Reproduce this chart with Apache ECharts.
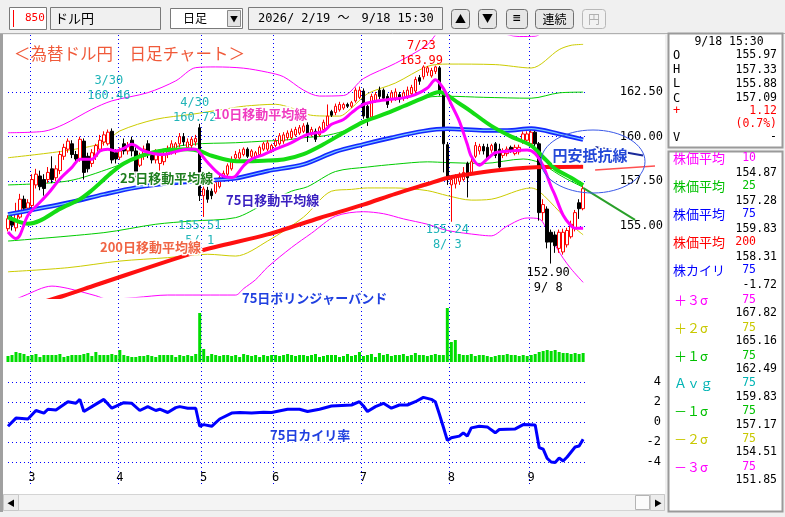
<!DOCTYPE html>
<html><head><meta charset="utf-8">
<script src="https://cdn.jsdelivr.net/npm/echarts@6.0.0/dist/echarts.min.js"></script>
<style>html,body{margin:0;padding:0;background:#f0f0f0;overflow:hidden}#c{width:785px;height:517px}</style>
</head><body><div id="c"></div>
<script>
// ---------------- data ----------------
const monthDays = [
  [2, [19,20,24,25,26,27]],
  [3, [2,3,4,5,6,9,10,11,12,13,16,17,18,19,20,23,24,25,26,27,30,31]],
  [4, [1,2,3,6,7,8,9,10,13,14,15,16,17,20,21,22,23,24,27,28,30]],
  [5, [1,7,8,11,12,13,14,15,18,19,20,21,22,25,26,27,28,29]],
  [6, [1,2,3,4,5,8,9,10,11,12,15,16,17,18,19,22,23,24,25,26,29,30]],
  [7, [1,2,3,6,7,8,9,10,13,14,15,16,17,21,22,23,24,27,28,29,30,31]],
  [8, [3,4,5,6,7,10,12,13,14,17,18,19,20,21,24,25,26,27,28,31]],
  [9, [1,2,3,4,7,8,9,10,11,14,15,16,17,18]]
];
// [open, close, low, high]
const ohlc = [
 [154.85,155.41,154.70,155.60],[155.30,155.05,154.75,155.60],[154.90,155.80,154.70,156.30],[155.50,156.50,155.40,156.80],[156.50,156.00,155.80,156.70],[156.00,156.30,155.90,156.50],
 [156.15,157.60,156.00,157.90],[157.30,157.90,157.10,158.20],[157.80,157.20,157.00,158.10],[157.60,157.10,156.70,157.90],[157.60,158.00,157.40,158.30],[158.20,157.60,157.40,158.90],
 [157.70,158.20,157.50,158.40],[158.10,159.00,157.90,159.20],[158.90,159.40,158.70,159.60],[159.30,159.75,159.10,159.90],[159.60,159.00,158.80,159.80],[159.00,158.75,158.50,159.20],
 [158.75,159.85,158.60,160.00],[159.75,158.00,157.60,159.90],[158.90,158.20,158.00,159.10],[158.50,159.10,158.30,159.30],[158.90,159.50,158.70,159.60],[159.30,159.80,159.10,160.10],
 [159.70,160.10,159.50,160.30],[159.60,160.25,159.50,160.40],[160.30,158.70,158.50,160.46],[159.10,158.75,158.50,159.30],
 [158.85,159.20,158.70,159.40],[159.60,159.20,159.00,159.90],[159.20,159.50,159.00,159.70],[159.80,159.20,158.90,160.00],[159.20,157.90,157.70,159.40],[158.40,158.95,158.30,159.10],
 [158.90,159.30,158.70,159.50],[159.60,159.20,158.80,159.80],[158.95,158.70,158.50,159.10],[158.70,159.10,158.50,159.30],[158.50,159.00,157.60,159.20],[158.60,159.00,158.40,159.20],
 [159.00,159.30,158.80,159.50],[159.20,159.60,159.00,159.80],[159.20,159.60,159.00,159.70],[159.60,160.00,159.40,160.20],[160.00,159.70,159.50,160.20],[159.40,159.70,159.20,159.90],
 [159.50,159.85,159.30,160.00],[159.70,159.90,159.50,160.10],[160.50,156.70,156.40,160.72],
 [156.70,157.07,155.51,157.30],[157.00,156.50,156.30,157.20],[156.95,156.70,156.50,157.10],[156.90,157.44,156.80,157.60],[157.20,157.70,157.10,157.90],[157.60,157.95,157.50,158.10],
 [157.90,158.37,157.80,158.50],[158.20,158.70,158.10,158.90],[158.80,159.00,158.60,159.20],[158.80,159.10,158.70,159.30],[159.00,159.30,158.90,159.40],[159.30,158.90,158.80,159.40],
 [158.90,159.20,158.80,159.30],[158.85,159.10,158.70,159.20],[159.00,159.40,158.90,159.50],[159.30,159.60,159.20,159.70],[159.30,159.65,159.20,159.80],[159.20,159.50,159.10,159.60],
 [159.50,159.75,159.40,159.90],[159.60,160.05,159.50,160.20],[159.75,160.10,159.60,160.25],[159.95,160.20,159.80,160.35],[159.95,160.30,159.85,160.45],[160.10,160.40,160.00,160.55],
 [160.20,160.50,160.10,160.65],[160.30,160.60,160.20,160.75],[160.65,160.10,159.70,160.80],[160.10,160.40,160.00,160.55],[160.30,159.85,159.70,160.45],[160.10,160.50,160.00,160.60],
 [160.40,160.80,160.30,160.95],[160.60,161.15,160.50,161.80],[161.40,161.20,161.10,161.50],[161.35,161.70,161.20,161.85],[161.50,161.80,161.40,161.95],[161.60,161.80,161.50,161.90],
 [161.80,161.70,161.60,161.90],[161.70,161.90,161.60,162.00],[162.00,162.60,161.90,162.75],[162.20,162.60,162.10,162.80],
 [162.55,161.15,161.00,162.70],[161.70,161.05,160.60,161.80],[161.10,162.25,161.00,162.40],[162.00,162.35,161.90,162.50],[162.60,162.25,162.10,162.80],[162.60,162.15,162.00,162.70],
 [162.25,161.80,161.60,162.40],[162.05,162.45,161.90,162.60],[162.15,162.50,162.00,162.70],[162.35,162.10,161.90,162.50],[162.15,162.45,162.00,162.60],[162.25,162.60,162.10,162.80],
 [162.40,162.75,162.30,162.90],[162.55,163.20,162.40,163.35],[163.30,163.10,162.90,163.45],[163.35,163.90,163.20,163.99],[163.60,163.85,163.40,163.95],[163.40,163.70,163.30,163.85],
 [163.65,163.90,163.50,163.97],[163.85,162.45,162.30,163.95],[162.40,159.60,158.00,162.50],[159.55,157.60,157.30,159.70],
 [157.30,157.60,155.24,157.80],[157.35,157.75,157.10,157.90],[157.50,157.90,157.30,158.00],[157.60,158.00,157.50,158.30],[158.50,157.70,156.60,158.60],[158.00,158.60,157.90,158.80],
 [158.90,159.50,158.80,159.70],[159.20,159.45,159.00,159.60],[159.45,159.20,159.00,159.60],[159.40,158.80,158.70,159.60],[159.24,159.50,159.10,159.60],[159.60,158.95,158.80,159.70],
 [159.30,158.30,158.05,159.60],[158.95,159.20,158.80,159.35],[159.05,159.30,158.90,159.45],[159.40,159.25,159.10,159.50],[159.05,159.40,158.95,159.55],[159.15,159.40,159.00,159.55],
 [159.70,160.15,159.60,160.30],[159.80,160.15,159.70,160.30],
 [159.60,160.25,159.50,160.40],[160.25,159.60,159.40,160.40],[159.60,155.75,155.30,159.70],[155.75,156.20,155.30,156.50],[155.95,154.10,153.75,156.10],[154.65,154.10,152.90,154.80],
 [154.50,153.90,153.50,154.70],[153.75,154.65,153.50,154.80],[153.55,154.65,153.40,154.85],[153.95,154.75,153.80,154.90],[154.40,155.10,154.30,155.30],[154.85,155.75,154.70,155.90],
 [156.30,155.97,155.40,156.50],[155.97,157.09,155.88,157.33]
];
const volume = [
 6,7,10,9,8,6,
 7,8,5,7,7,7,7,8,5,6,7,7,7,8,9,6,10,7,7,7,8,7,
 12,7,6,5,5,6,6,7,6,5,7,7,7,7,5,7,6,7,6,8,
 49,13,6,8,7,6,7,7,6,7,5,8,7,6,7,5,7,6,7,
 7,6,7,8,7,6,7,7,6,7,8,5,6,7,7,7,5,6,8,6,7,10,
 6,7,8,5,9,7,8,6,7,7,8,6,7,9,7,7,6,7,8,7,7,54,
 20,22,8,7,7,8,6,7,7,6,5,6,7,7,8,7,7,6,7,6,
 7,8,10,11,12,11,12,10,9,9,8,9,8,9
];
// line vertices: [bar index, value]
const ma10 = [[0,154.67],[2,154.3],[3,154.5],[5,155.6],[8,156.33],[10,156.8],[13,157.63],[16,158.28],[18,158.74],[21,158.74],[23,159.2],[25,159.3],[27,159.2],[29,159.35],[31,159.57],[34,159.2],[39,159.0],[41,159.1],[45,159.3],[47,159.3],[48,159.1],[50,158.55],[53,157.9],[56,157.72],[57,157.8],[59,158.37],[61,158.74],[64,159.0],[67,159.3],[71,159.67],[75,160.13],[79,160.3],[81,160.69],[84,160.96],[86,161.33],[89,161.8],[92,161.98],[95,162.07],[99,162.17],[102,162.35],[105,162.72],[107,163.18],[109,162.7],[111,161.8],[113,160.87],[115,159.57],[116,158.9],[118,158.4],[120,158.75],[122,159.1],[126,159.2],[130,159.25],[132,159.05],[134,158.35],[136,157.2],[137,156.7],[139,155.6],[141,155.0],[142,154.88],[144,154.87]];
const ma25 = [[0,155.5],[3,155.22],[5,155.13],[8,155.3],[13,155.96],[18,156.5],[21,157.0],[23,157.4],[26,158.0],[29,158.5],[33,158.9],[38,159.2],[45,159.3],[48,159.2],[51,158.93],[56,158.65],[59,158.62],[64,158.65],[69,158.72],[74,159.02],[79,159.57],[84,160.22],[89,160.83],[94,161.24],[99,161.7],[104,162.17],[108,162.5],[113,161.85],[116,161.4],[121,160.6],[126,160.0],[131,159.5],[134,158.85],[137,158.2],[141,157.7],[144,157.28]];
const ma75 = [[0,155.65],[15,156.3],[24,156.77],[32,157.15],[40,157.39],[48,157.52],[57,157.67],[65,158.08],[74,158.45],[82,159.16],[89,159.57],[96,159.94],[104,160.31],[110,160.44],[119,160.35],[125,160.35],[131,160.45],[138,160.15],[144,159.83]];
const ma200 = [[0,150.2],[14,151.1],[22,151.7],[48,153.6],[65,154.53],[78,155.45],[89,156.2],[97,156.8],[105,157.35],[110,157.69],[117,157.95],[124,158.15],[134,158.3],[144,158.31]];
const bandUp3 = [[0,160.22],[9,160.3],[14,160.69],[21,161.53],[26,162.0],[35,162.46],[42,163.12],[47,163.86],[52,163.9],[59,163.83],[65,163.6],[69,163.35],[74,162.6],[78,162.27],[84,162.3],[89,163.25],[97,164.1],[105,165.13],[108,165.9],[115,166.4],[122,165.9],[128,165.6],[132,165.62],[136,166.3],[144,167.82]];
const bandUp2 = [[0,158.82],[14,159.2],[24,159.66],[28,160.32],[37,160.97],[46,161.25],[54,161.53],[59,161.7],[67,161.81],[71,161.6],[75,161.24],[78,161.16],[83,161.15],[86,161.6],[90,162.4],[97,163.0],[105,163.93],[110,164.06],[122,164.03],[131,163.84],[138,164.87],[141,165.11],[144,165.16]];
const bandUp1 = [[0,157.3],[15,157.52],[26,158.26],[37,159.2],[46,159.57],[57,159.66],[65,159.76],[69,159.8],[74,159.94],[79,160.04],[84,160.31],[90,160.9],[97,161.52],[105,162.2],[110,162.26],[119,162.2],[131,162.15],[138,162.45],[144,162.49]];
const bandDn1 = [[0,154.16],[24,154.63],[37,155.1],[46,155.28],[57,155.47],[64,156.21],[71,156.95],[75,157.2],[82,158.05],[90,158.3],[97,158.46],[105,158.59],[110,158.55],[119,158.5],[129,158.75],[133,158.55],[138,157.87],[141,157.5],[144,157.17]];
const bandDn2 = [[0,152.44],[15,152.67],[28,153.04],[40,153.23],[50,153.42],[57,153.32],[65,154.16],[74,155.5],[81,156.95],[86,157.05],[90,157.13],[97,157.13],[105,156.98],[110,156.7],[116,156.45],[121,156.5],[131,157.13],[133,156.94],[138,155.82],[141,155.07],[144,154.51]];
const bandDn3 = [[0,150.7],[4,151.1],[11,151.64],[15,151.51],[22,151.1],[25,150.9],[32,151.0],[40,151.14],[57,151.14],[59,151.5],[62,152.0],[65,152.7],[71,153.8],[76,154.6],[82,155.55],[89,155.8],[94,155.69],[99,155.4],[105,155.1],[110,154.75],[118,154.5],[121,154.45],[125,155.0],[130,155.45],[133,155.4],[136,154.3],[139,153.2],[141,152.6],[144,151.85]];
const kairi = [[0,-0.43],[2,0.39],[5,0.3],[7,1.15],[9,0.89],[10,1.28],[12,1.21],[15,2.03],[17,1.87],[18,2.26],[19,1.05],[21,1.54],[24,2.26],[26,1.38],[29,1.93],[31,1.87],[33,1.15],[35,1.54],[37,1.15],[38,1.28],[40,0.95],[42,1.44],[43,1.54],[45,1.38],[47,1.38],[48,-0.43],[49,-0.26],[51,-0.43],[53,0.3],[56,0.89],[58,0.95],[61,0.89],[64,0.98],[66,0.95],[70,1.28],[73,1.28],[75,1.05],[78,1.28],[81,1.6],[86,1.7],[88,2.03],[89,1.6],[90,1.05],[92,1.54],[94,1.87],[96,1.38],[98,1.7],[100,1.7],[102,2.03],[104,2.46],[106,2.26],[107,2.03],[108,0.8],[109,-0.5],[110,-1.84],[111,-1.57],[113,-1.41],[114,-1.08],[115,-1.41],[116,-0.59],[118,-0.43],[120,-0.49],[122,-1.08],[123,-0.75],[127,-0.69],[129,-0.26],[132,-0.3],[133,-2.56],[134,-2.72],[135,-3.64],[136,-4.0],[137,-4.05],[138,-3.6],[139,-3.9],[140,-3.5],[141,-3.0],[142,-2.5],[143,-2.4],[144,-1.72]];
// hand-drawn trend lines (bar index, price)
const trendGreen = [[144,157.13],[157,155.34]];
const trendRed = [[147,158.13],[162,158.36]];
const trendNavy = [[147,159.42],[159,158.95]];
// axis ticks
const priceGridLevels = [155, 157.5, 160, 162.5];
const kairiGridLevels = [-4, -2, 0, 2, 4];
// high / low notes: [bar index, price, line1, line2]
const notes = [
  [26, 160.46, '3/30', '160.46'],
  [48, 160.72, '4/30', '160.72'],
  [49, 155.51, '155.51', '5/ 1'],
  [104, 163.99, '7/23', '163.99'],
  [111, 155.24, '155.24', '8/ 3'],
  [136, 152.90, '152.90', '9/ 8']
];
// side panel
const quote = [['O','155.97'],['H','157.33'],['L','155.88'],['C','157.09']];
const quoteTime = '9/18 15:30';
const change = ['+', '1.12', '(0.7%)'];
const indicators = [
  ['株価平均','10','154.87','#ff00ff'],
  ['株価平均','25','157.28','#00c000'],
  ['株価平均','75','159.83','#0000ff'],
  ['株価平均','200','158.31','#ff0000'],
  ['株カイリ','75','-1.72','#0000ff']
];
const bandInfo = [
  ['＋３σ','75','167.82','#ff00ff'],
  ['＋２σ','75','165.16','#c8c800'],
  ['＋１σ','75','162.49','#00c000'],
  ['Ａｖｇ','75','159.83','#00b4b4'],
  ['－１σ','75','157.17','#00c000'],
  ['－２σ','75','154.51','#c8c800'],
  ['－３σ','75','151.85','#ff00ff']
];

// ---------------- build ----------------
const mono = "'DejaVu Sans Mono', 'Noto Sans CJK JP', monospace";
const cjk = "'Noto Sans CJK JP', sans-serif";
const dates = [];
const monthStart = new Set();
monthDays.forEach(([m, ds], j) => { if (j > 0) monthStart.add(dates.length); ds.forEach(d => dates.push(m + '/' + d)); });
const categories = dates.concat(Array.from({length: 20}, (_, k) => 'pad' + k));
const lastBar = dates.length; // grid lines end here

const dotted = {color: '#0000ff', width: 1, type: [1, 3]};
const gridSeg = lv => lv.map(v => [{coord: [0, v]}, {coord: [lastBar, v]}]);
const cyan = '#20b4b8';
const noteColors = [cyan, cyan, cyan, '#ff0000', cyan, '#000000'];
const noteLayout = [
  {position: 'top', distance: 25, offset: [-3, 0]},
  {position: 'top', distance: -2, offset: [-5, 0]},
  {position: 'bottom', distance: 1, offset: [-4, 0]},
  {position: 'top', distance: -3, offset: [-2, 0]},
  {position: 'bottom', distance: 1, offset: [-4, 0]},
  {position: 'bottom', distance: 2, offset: [-3, 0]}
];
const notePoints = notes.map((n, k) => ({
  coord: [n[0], n[1]],
  label: Object.assign({show: true, formatter: n[2] + '\n' + n[3], color: noteColors[k], fontFamily: mono, fontSize: 12, lineHeight: 15}, noteLayout[k])
}));
const priceLabelPoints = priceGridLevels.map(v => ({
  coord: [164, v],
  label: {show: true, position: 'left', distance: 0, formatter: v.toFixed(2), color: '#000', fontFamily: mono, fontSize: 12}
}));
const kairiLabelPoints = kairiGridLevels.map(v => ({
  coord: [164, v],
  label: {show: true, position: 'left', distance: 2, formatter: String(v), color: '#000', fontFamily: mono, fontSize: 12}
}));

function lineSeries(data, color, width, z, smooth, xi, yi) {
  return {type: 'line', data, xAxisIndex: xi || 0, yAxisIndex: yi || 0, symbol: 'none', silent: true,
    smooth: smooth, z: z, lineStyle: {color, width}, clip: true};
}

// ---------------- graphic (window chrome & annotations) ----------------
const G = [];
function rect(x, y, w, h, fill, stroke, lw, z, r) {
  G.push({type: 'rect', silent: true, z: z == null ? -10 : z, shape: {x, y, width: w, height: h, r: r || 0},
    style: {fill, stroke: stroke || null, lineWidth: lw || 1}});
}
function txt(x, y, s, fill, font, align, extra, z) {
  G.push({type: 'text', silent: true, z: z == null ? 100 : z, x, y,
    style: Object.assign({text: s, fill, font, align: align || 'left', verticalAlign: 'middle'}, extra || {})});
}
// window
rect(0, 34, 3, 478, '#a0a0a0');
rect(3, 35, 662, 459, '#ffffff');
// toolbar
G.push({type: 'line', silent: true, z: -5, shape: {x1: 0, y1: 33.5, x2: 785, y2: 33.5}, style: {stroke: '#b0b0b0', lineWidth: 1}});
rect(9.5, 7.5, 37, 22, '#ffffff', '#7a7a7a', 1, -5);
rect(13, 10, 1, 17, '#ff0000', null, 1, -4);
txt(25, 18.5, '850', '#ff0000', '11px ' + mono);
rect(50.5, 7.5, 110, 22, '#f0f0f0', '#7a7a7a', 1, -5);
txt(55, 18.5, 'ドル円', '#000', '13px ' + cjk);
rect(170.5, 8.5, 72, 20, '#ffffff', '#7a7a7a', 1, -5);
txt(183, 18.5, '日足', '#000', '12px ' + cjk);
rect(227.5, 10.5, 13, 16, '#e4e4e4', '#8a8a8a', 1, -4);
txt(234, 19, '▼', '#000', '8px ' + cjk, 'center');
rect(248.5, 7.5, 194, 22, '#f0f0f0', '#7a7a7a', 1, -5);
txt(258, 18.5, '2026/ 2/19 ～　9/18 15:30', '#000', '12px ' + mono);
rect(451.5, 9.5, 18, 19, '#e6e6e6', '#707070', 1, -5, 3);
txt(460.5, 19, '▲', '#000', '11px ' + cjk, 'center');
rect(478.5, 9.5, 18, 19, '#e6e6e6', '#707070', 1, -5, 3);
txt(487.5, 19, '▼', '#000', '11px ' + cjk, 'center');
rect(506.5, 9.5, 21, 19, '#e6e6e6', '#707070', 1, -5, 3);
txt(517, 19, '≡', '#000', '13px ' + mono, 'center');
rect(535.5, 9.5, 38, 19, '#e6e6e6', '#707070', 1, -5, 3);
txt(554.5, 19, '連続', '#000', '12px ' + cjk, 'center');
rect(582.5, 9.5, 23, 19, '#f2f2f2', '#b8b8b8', 1, -5, 3);
txt(594, 19, '円', '#b0b0b0', '12px ' + cjk, 'center');
// scrollbar
rect(3.5, 494.5, 661, 16, '#f4f4f4', '#d4d4d4', 1, -5);
rect(3.5, 494.5, 15, 16, '#ececec', '#c8c8c8', 1, -4);
txt(11, 502.5, '◀', '#000', '8px ' + cjk, 'center');
rect(635.5, 495.5, 14, 14, '#fbfbfb', '#b4b4b4', 1, -4);
rect(650.5, 494.5, 14, 16, '#ececec', '#c8c8c8', 1, -4);
txt(658, 502.5, '▶', '#000', '8px ' + cjk, 'center');
// side panel boxes
rect(668.5, 33.5, 114, 114, '#ffffff', '#9a9a9a', 2, -5);
rect(668.5, 151.5, 114, 360, '#ffffff', '#9a9a9a', 2, -5);
txt(729, 42, quoteTime, '#000', '11.5px ' + mono, 'center');
quote.forEach((q, k) => {
  const y = 55.5 + k * 14.3;
  txt(673, y, q[0], '#000', '12px ' + mono);
  txt(777, y, q[1], '#000', '11.5px ' + mono, 'right');
});
txt(673, 111, change[0], '#ff0000', '12px ' + mono);
txt(777, 111, change[1], '#ff0000', '11.5px ' + mono, 'right');
txt(777, 124.5, change[2], '#ff0000', '11.5px ' + mono, 'right');
txt(673, 137.5, 'V', '#000', '12px ' + mono);
txt(777, 137.5, '-', '#000', '11.5px ' + mono, 'right');
indicators.forEach((r, k) => {
  const y = 158.5 + k * 28;
  txt(673, y, r[0], r[3], '13px ' + cjk);
  txt(756, y, r[1], r[3], '11.5px ' + mono, 'right');
  txt(777, y + 15, r[2], '#000', '11.5px ' + mono, 'right');
});
bandInfo.forEach((r, k) => {
  const y = 300 + k * 27.8;
  txt(674, y, r[0], r[3], '13px ' + cjk);
  txt(756, y, r[1], r[3], '11.5px ' + mono, 'right');
  txt(777, y + 13.5, r[2], '#000', '11.5px ' + mono, 'right');
});
// chart annotations
const halo = {stroke: '#ffffff', lineWidth: 3};
txt(14, 54, '＜為替ドル円　日足チャート＞', '#f05a3a', '16.5px ' + cjk);
txt(214, 114, '10日移動平均線', '#f03cc0', 'bold 13px ' + cjk, 'left', halo);
txt(120, 178, '25日移動平均線', '#1e7e1e', 'bold 13px ' + cjk, 'left', halo);
txt(226, 200, '75日移動平均線', '#3a20c0', 'bold 13px ' + cjk, 'left', halo);
txt(100, 247, '200日移動平均線', '#f06444', 'bold 13px ' + cjk, 'left', halo);
txt(242, 298, '75日ボリンジャーバンド', '#2040e0', 'bold 13px ' + cjk, 'left', halo);
txt(270, 435, '75日カイリ率', '#2040e0', 'bold 13px ' + cjk, 'left', halo);
G.push({type: 'ellipse', silent: true, z: 99, shape: {cx: 593, cy: 161.5, rx: 52, ry: 31.5}, style: {fill: null, stroke: '#3a58e8', lineWidth: 1}});
txt(590, 155, '円安抵抗線', '#2448d8', 'bold 15px ' + cjk, 'center', halo);

// ---------------- option ----------------
const hiddenCat = gi => ({type: 'category', gridIndex: gi, data: categories, boundaryGap: true, show: false});
const option = {
  animation: false,
  backgroundColor: '#f0f0f0',
  textStyle: {fontFamily: mono},
  graphic: {elements: G},
  grid: [
    {left: 6, top: 36, width: 659, height: 261},
    {left: 6, top: 300, width: 659, height: 62},
    {left: 6, top: 372, width: 659, height: 100},
    {left: 6, top: 35, width: 659, height: 450}
  ],
  xAxis: [hiddenCat(0), hiddenCat(1), hiddenCat(2), {
    type: 'category', gridIndex: 3, data: categories, boundaryGap: true, position: 'bottom',
    axisLine: {show: false}, axisTick: {show: false},
    axisLabel: {interval: (i) => monthStart.has(i), formatter: v => v.split('/')[0], margin: -13,
      color: '#000', fontFamily: mono, fontSize: 12},
    splitLine: {show: true, interval: (i) => monthStart.has(i), showMaxLine: false, lineStyle: dotted}
  }],
  yAxis: [
    {type: 'value', gridIndex: 0, min: 151.03, max: 165.63, show: false},
    {type: 'value', gridIndex: 1, min: 0, max: 62, show: false},
    {type: 'value', gridIndex: 2, min: -5, max: 5, show: false},
    {type: 'value', gridIndex: 3, min: 0, max: 1, show: false}
  ],
  series: [
    {type: 'candlestick', xAxisIndex: 0, yAxisIndex: 0, data: ohlc, barWidth: 3, z: 3, silent: true,
      itemStyle: {color: '#ffffff', color0: '#000000', borderColor: '#ff0000', borderColor0: '#000000', borderWidth: 1},
      markLine: {silent: true, z: 1, symbol: ['none', 'none'], label: {show: false}, lineStyle: dotted, data: gridSeg(priceGridLevels)},
      markPoint: {silent: true, z: 10, symbol: 'rect', symbolSize: 0, itemStyle: {color: 'transparent'},
        data: priceLabelPoints.concat(notePoints)}
    },
    lineSeries(bandUp3, '#ff00ff', 1, 3, 0.3),
    lineSeries(bandDn3, '#ff00ff', 1, 3, 0.3),
    lineSeries(bandUp2, '#cccc00', 1, 3, 0.3),
    lineSeries(bandDn2, '#cccc00', 1, 3, 0.3),
    lineSeries(bandUp1, '#00cc00', 1, 3, 0.3),
    lineSeries(bandDn1, '#00cc00', 1, 3, 0.3),
    lineSeries(ma200, '#ff1010', 4, 4, 0.3),
    lineSeries(ma75, '#1428ff', 4.5, 4, 0.3),
    lineSeries(ma75, '#7cc8ff', 1.2, 4, 0.3),
    lineSeries(ma25, '#14dc14', 4, 4, 0.3),
    lineSeries(ma10, '#ff00ff', 3, 4, 0.3),
    lineSeries(trendGreen, '#2aa02a', 2, 4, false),
    lineSeries(trendRed, '#ff5050', 1.5, 4, false),
    lineSeries(trendNavy, '#1a2a9a', 2, 4, false),
    {type: 'bar', xAxisIndex: 1, yAxisIndex: 1, data: volume, barWidth: 3, silent: true, itemStyle: {color: '#00dd00'}},
    Object.assign(lineSeries(kairi, '#0000ff', 3, 4, false, 2, 2), {
      markLine: {silent: true, z: 1, symbol: ['none', 'none'], label: {show: false}, lineStyle: dotted, data: gridSeg(kairiGridLevels)},
      markPoint: {silent: true, symbol: 'rect', symbolSize: 0, itemStyle: {color: 'transparent'}, data: kairiLabelPoints}
    })
  ]
};
const chart = echarts.init(document.getElementById('c'), null, {renderer: 'canvas'});
chart.setOption(option);
</script></body></html>
